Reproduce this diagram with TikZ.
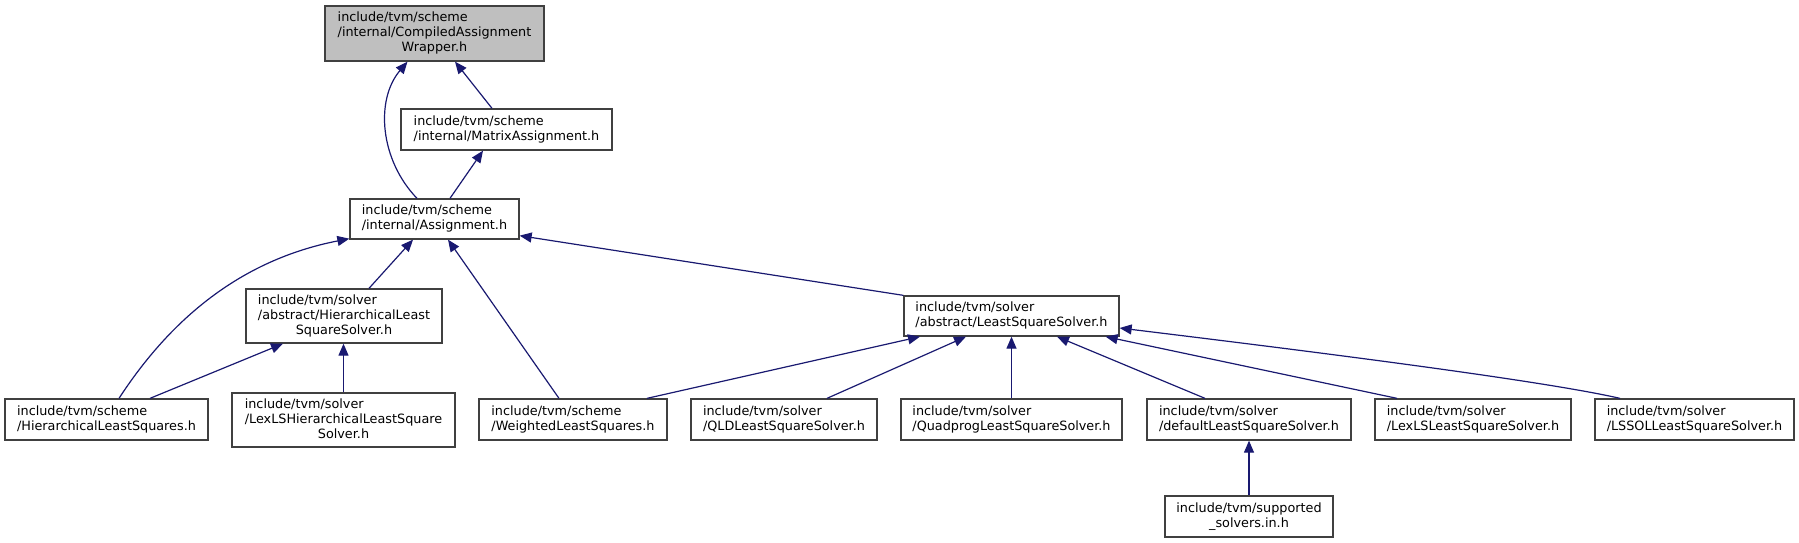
\documentclass[tikz,border=0pt]{standalone}
\usepackage{fontspec}
\setmainfont{DejaVu Sans}
\usetikzlibrary{arrows.meta,calc}
\definecolor{edgeblue}{HTML}{191970}
\definecolor{boxline}{HTML}{404040}
\definecolor{rootfill}{HTML}{BFBFBF}
\begin{document}
\begin{tikzpicture}[x=1pt,y=-1pt,
  box/.style={draw=boxline,line width=1.3pt,fill=white,inner sep=0pt,
    font=\fontsize{12.8}{15}\selectfont},
  rootbox/.style={box,fill=rootfill},
  dep/.style={draw=edgeblue,line width=1.2pt,
    arrows={-Triangle[length=12pt,width=10pt,fill=edgeblue]}}]
\useasboundingbox (0,0) rectangle (1799,543);
\newcommand{\Lt}[1]{\begin{tabular}{@{}l@{}}#1\end{tabular}}
\newcommand{\Cl}[1]{\multicolumn{1}{@{}c@{}}{#1}}
% nodes
\node[rootbox,minimum width=219,minimum height=55] (caw) at (434.5,33.5)
  {\Lt{include/tvm/scheme\\/internal/CompiledAssignment\\\Cl{Wrapper.h}}};
\node[box,minimum width=211,minimum height=41] (ma) at (506.5,129.5)
  {\Lt{include/tvm/scheme\\/internal/MatrixAssignment.h}};
\node[box,minimum width=169,minimum height=40] (a) at (434.5,219)
  {\Lt{include/tvm/scheme\\/internal/Assignment.h}};
\node[box,minimum width=196,minimum height=54] (hlss) at (344,316)
  {\Lt{include/tvm/solver\\/abstract/HierarchicalLeast\\\Cl{SquareSolver.h}}};
\node[box,minimum width=215,minimum height=40] (lss) at (1011.5,316)
  {\Lt{include/tvm/solver\\/abstract/LeastSquareSolver.h}};
\node[box,minimum width=203,minimum height=41] (hls) at (106.5,419.5)
  {\Lt{include/tvm/scheme\\/HierarchicalLeastSquares.h}};
\node[box,minimum width=223,minimum height=54] (lexlsh) at (343.5,420)
  {\Lt{include/tvm/solver\\/LexLSHierarchicalLeastSquare\\\Cl{Solver.h}}};
\node[box,minimum width=188,minimum height=41] (wls) at (573,419.5)
  {\Lt{include/tvm/scheme\\/WeightedLeastSquares.h}};
\node[box,minimum width=186,minimum height=41] (qld) at (784,419.5)
  {\Lt{include/tvm/solver\\/QLDLeastSquareSolver.h}};
\node[box,minimum width=221,minimum height=41] (quad) at (1011.5,419.5)
  {\Lt{include/tvm/solver\\/QuadprogLeastSquareSolver.h}};
\node[box,minimum width=204,minimum height=41] (def) at (1249,419.5)
  {\Lt{include/tvm/solver\\/defaultLeastSquareSolver.h}};
\node[box,minimum width=196,minimum height=41] (lexls) at (1473,419.5)
  {\Lt{include/tvm/solver\\/LexLSLeastSquareSolver.h}};
\node[box,minimum width=199,minimum height=41] (lssol) at (1694.5,419.5)
  {\Lt{include/tvm/solver\\/LSSOLLeastSquareSolver.h}};
\node[box,minimum width=168,minimum height=41] (sup) at (1249,516.5)
  {\begin{tabular}{@{}c@{}}include/tvm/supported\\\_solvers.in.h\end{tabular}};
% edges
\draw[dep] ($(ma.north)+(-14.5,0)$) -- ($(caw.south)+(20.5,0)$);
\draw[dep] ($(a.north)+(-17.5,0)$) .. controls (380,160) and (375,100) .. ($(caw.south)+(-27,0)$);
\draw[dep] ($(a.north)+(15.5,0)$) -- ($(ma.south)+(-23.5,0)$);
\draw[dep] ($(hls.north)+(12.5,0)$) .. controls (170,320) and (240,260) .. ($(a.south west)+(0,-1)$);
\draw[dep] ($(hlss.north)+(25,0)$) -- ($(a.south)+(-21.5,0)$);
\draw[dep] ($(wls.north)+(-14,0)$) -- ($(a.south)+(13.5,0)$);
\draw[dep] (lss.north west) -- ($(a.south east)+(0,-4)$);
\draw[dep] ($(hls.north)+(43.5,0)$) -- ($(hlss.south)+(-61,0)$);
\draw[dep] (lexlsh.north) -- (lexlsh.north |- hlss.south);
\draw[dep] ($(wls.north)+(74,0)$) -- ($(lss.south)+(-91.5,0)$);
\draw[dep] ($(qld.north)+(43,0)$) -- ($(lss.south)+(-45.5,0)$);
\draw[dep] (quad.north) -- (lss.south);
\draw[dep] ($(def.north)+(-44,0)$) -- ($(lss.south)+(45.5,0)$);
\draw[dep] ($(lexls.north)+(-76,0)$) -- ($(lss.south east)+(-14,0)$);
\draw[dep] ($(lssol.north)+(-74.5,0)$) .. controls (1540,380) and (1300,350) .. ($(lss.east)+(0,12)$);
\draw[dep] (sup.north) -- (def.south);
\end{tikzpicture}
\end{document}
